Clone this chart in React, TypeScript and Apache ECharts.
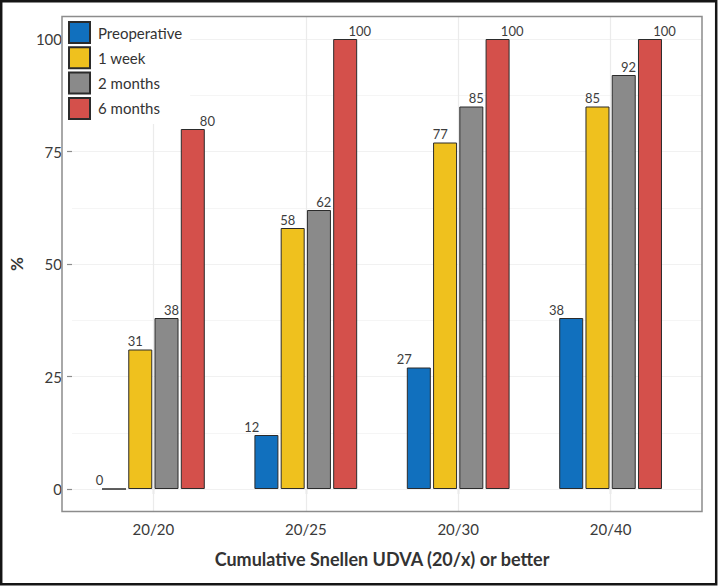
import React, { useEffect, useRef } from "react";
import * as echarts from "echarts";

const categories = ["20/20", "20/25", "20/30", "20/40"];
const seriesNames = ["Preoperative", "1 week", "2 months", "6 months"];
const preoperative = [0, 12, 27, 38];
const oneWeek = [31, 58, 77, 85];
const twoMonths = [38, 62, 85, 92];
const sixMonths = [80, 100, 100, 100];
const yTicks = [0, 25, 50, 75, 100];
const colors = ["#1170BE", "#EFC11E", "#8A8A8A", "#D4504B"];
const labelShift = [-14.6, -4.9, 4.9, 14.6];

const FONT = 'Lato, "Open Sans", "DejaVu Sans", sans-serif';

export default function App() {
  const ref = useRef<HTMLDivElement>(null);
  useEffect(() => {
    document.body.style.margin = "0";
    if (!ref.current) return;
    const chart = echarts.init(ref.current, undefined, { renderer: "svg" });
    const values = [preoperative, oneWeek, twoMonths, sixMonths];
    const barSeries = values.map((vals, i) => ({
      name: seriesNames[i],
      type: "bar",
      xAxisIndex: 1,
      yAxisIndex: 2,
      data: vals,
      barWidth: 24,
      barGap: "9.4%",
      z: 3,
      itemStyle: { color: colors[i], borderColor: "#2b2b2b", borderWidth: 1 },
      label: {
        show: true,
        position: "top",
        distance: 2,
        offset: [labelShift[i], 0],
        color: "#3d3d3d",
        fontSize: 13,
        fontFamily: FONT,
      },
    }));
    chart.setOption({
      animation: false,
      textStyle: { fontFamily: FONT },
      grid: [
        { left: 62, right: 16, top: 39, bottom: 97, containLabel: false },
        { left: 77.2, right: 31.2, top: 16.5, bottom: 74.5, containLabel: false },
      ],
      xAxis: [
        { type: "value", gridIndex: 0, min: 0, max: 1, show: false },
        {
          type: "category",
          gridIndex: 1,
          data: categories,
          axisLine: { show: false },
          axisTick: { show: true, alignWithLabel: true, length: 5, lineStyle: { color: "#8c8c8c", width: 1.2 } },
          axisLabel: { color: "#3a3a3a", fontSize: 15, margin: 10, fontFamily: FONT },
          splitLine: { show: false },
          name: "Cumulative Snellen UDVA (20/x) or better",
          nameLocation: "middle",
          nameGap: 38.5,
          nameTextStyle: { color: "#333", fontSize: 18, fontWeight: "bold", fontFamily: FONT },
        },
      ],
      yAxis: [
        {
          type: "value",
          gridIndex: 0,
          min: 0,
          max: 100,
          interval: 25,
          axisLine: { show: false },
          axisTick: { show: true, length: 5, lineStyle: { color: "#8c8c8c", width: 1.2 } },
          axisLabel: {
            color: "#3a3a3a",
            fontSize: 15,
            margin: 10,
            fontFamily: FONT,
            customValues: yTicks,
          },
          splitLine: { show: true, lineStyle: { color: "#EBEBEB", width: 1.2 } },
          name: "%",
          nameLocation: "middle",
          nameGap: 37,
          nameTextStyle: { color: "#333", fontSize: 17, fontWeight: "bold", fontFamily: FONT },
        },
        {
          type: "value",
          gridIndex: 0,
          min: 0,
          max: 100,
          interval: 12.5,
          position: "left",
          axisLine: { show: false },
          axisTick: { show: false },
          axisLabel: { show: false },
          splitLine: { show: true, lineStyle: { color: "#F3F3F3", width: 0.8 } },
        },
        { type: "value", gridIndex: 1, min: -5, max: 105, show: false, splitLine: { show: false } },
      ],
      legend: {
        orient: "vertical",
        left: 63,
        top: 17,
        padding: [4, 8, 4, 5],
        backgroundColor: "#ffffff",
        icon: "rect",
        itemWidth: 21,
        itemHeight: 21,
        itemGap: 2.3,
        data: seriesNames,
        textStyle: { color: "#333", fontSize: 15, fontFamily: FONT, padding: [0, 0, 0, 3] },
        z: 10,
      },
      graphic: [
        {
          type: "rect",
          shape: { x: 62, y: 16.5, width: 640, height: 495 },
          style: { fill: "none", stroke: "#8c8c8c", lineWidth: 1.5 },
          z: 20,
          silent: true,
        },
        {
          type: "rect",
          shape: { x: 1.2, y: 1.2, width: 715, height: 583 },
          style: { fill: "none", stroke: "#151515", lineWidth: 2.5 },
          z: 20,
          silent: true,
        },
      ],
      series: [
        {
          type: "line",
          xAxisIndex: 1,
          yAxisIndex: 2,
          data: [],
          z: 1,
          silent: true,
          markLine: {
            silent: true,
            symbol: "none",
            z: 1,
            label: { show: false },
            lineStyle: { color: "#EBEBEB", width: 1.2, type: "solid" },
            data: categories.map((c) => ({ xAxis: c })),
          },
        },
        ...barSeries,
      ],
    });
    return () => chart.dispose();
  }, []);
  return <div ref={ref} style={{ width: 718, height: 586, background: "#fff" }} />;
}
